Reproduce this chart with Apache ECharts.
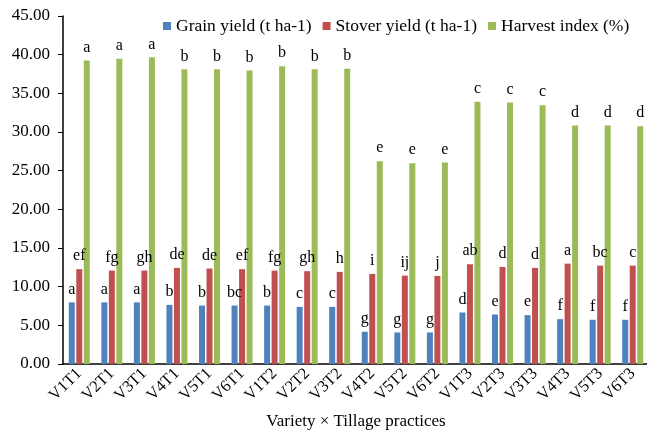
<!DOCTYPE html>
<html>
<head>
<meta charset="utf-8">
<script src="https://cdn.jsdelivr.net/npm/echarts@6/dist/echarts.min.js"></script>
<style>
  html, body { margin: 0; padding: 0; background: #fff; }
  #chart { width: 647px; height: 430px; }
</style>
</head>
<body>
<div id="chart"></div>
<script>
// Treatments: variety × tillage practice
const categories = ['V1T1','V2T1','V3T1','V4T1','V5T1','V6T1','V1T2','V2T2','V3T2',
                    'V4T2','V5T2','V6T2','V1T3','V2T3','V3T3','V4T3','V5T3','V6T3'];

// Series values
const grainYield   = [7.97, 7.97, 7.97, 7.65, 7.56, 7.56, 7.56, 7.39, 7.39,
                      4.17, 4.08, 4.08, 6.66, 6.40, 6.32, 5.80, 5.72, 5.72];
const stoverYield  = [12.26, 12.08, 12.08, 12.43, 12.34, 12.26, 12.08, 12.00, 11.91,
                      11.65, 11.43, 11.39, 12.90, 12.55, 12.43, 12.98, 12.72, 12.72];
const harvestIndex = [39.26, 39.48, 39.65, 38.10, 38.10, 37.94, 38.50, 38.10, 38.19,
                      26.23, 25.97, 26.06, 33.90, 33.80, 33.46, 30.84, 30.84, 30.75];

// Mean separation letters
const grainLetters   = ['a','a','a','b','b','bc','b','c','c','g','g','g','d','e','e','f','f','f'];
const stoverLetters  = ['ef','fg','gh','de','de','ef','fg','gh','h','i','ij','j','ab','d','d','a','bc','c'];
const harvestLetters = ['a','a','a','b','b','b','b','b','b','e','e','e','c','c','c','d','d','d'];

const serif = '"Liberation Serif", "Times New Roman", serif';

function letterLabel(letters) {
  return {
    show: true,
    position: 'top',
    distance: 5,
    fontFamily: serif,
    fontSize: 16,
    color: '#000',
    formatter: p => letters[p.dataIndex]
  };
}

const chart = echarts.init(document.getElementById('chart'));
chart.setOption({
  animation: false,
  backgroundColor: '#fff',
  textStyle: { fontFamily: serif },
  legend: {
    left: 158,
    top: 12,
    icon: 'rect',
    itemWidth: 8,
    itemHeight: 8,
    itemGap: 11,
    textStyle: { fontFamily: serif, fontSize: 17.5, color: '#000' },
    data: ['Grain yield (t ha-1)', 'Stover yield (t ha-1)', 'Harvest index (%)']
  },
  grid: { left: 63, top: 16, width: 586, height: 348, outerBoundsMode: 'none', containLabel: false },
  xAxis: {
    type: 'category',
    data: categories,
    name: 'Variety × Tillage practices',
    nameLocation: 'middle',
    nameGap: 49,
    nameTextStyle: { fontFamily: serif, fontSize: 17, color: '#000' },
    axisLine: { lineStyle: { color: '#000', width: 1.5 } },
    axisTick: { length: 5, lineStyle: { color: '#000' } },
    axisLabel: { rotate: 45, fontFamily: serif, fontSize: 16.5, color: '#000', margin: 7, interval: 0 }
  },
  yAxis: {
    type: 'value',
    min: 0,
    max: 45,
    interval: 5,
    axisLine: { show: true, lineStyle: { color: '#000', width: 1.5 } },
    axisTick: { show: true, length: 5, lineStyle: { color: '#000' } },
    splitLine: { show: false },
    axisLabel: { fontFamily: serif, fontSize: 17, color: '#000', margin: 13,
                 formatter: v => v.toFixed(2) }
  },
  series: [
    { name: 'Grain yield (t ha-1)', type: 'bar', data: grainYield,
      barWidth: 6, barGap: '25%',
      itemStyle: { color: '#4F81BD' }, label: letterLabel(grainLetters) },
    { name: 'Stover yield (t ha-1)', type: 'bar', data: stoverYield,
      barWidth: 6, barGap: '25%',
      itemStyle: { color: '#C0504D' }, label: letterLabel(stoverLetters) },
    { name: 'Harvest index (%)', type: 'bar', data: harvestIndex,
      barWidth: 6, barGap: '25%',
      itemStyle: { color: '#9BBB59' }, label: letterLabel(harvestLetters) }
  ]
});
</script>
</body>
</html>
